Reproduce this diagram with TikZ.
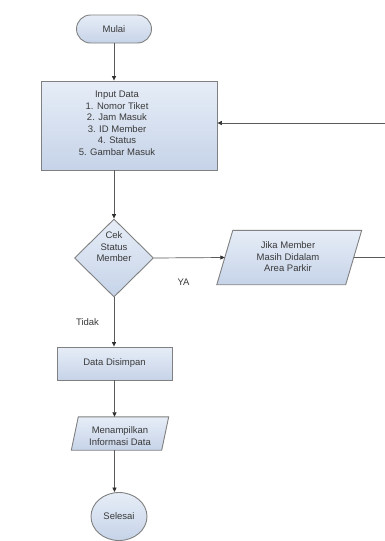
\documentclass[tikz,border=0pt]{standalone}
\usepackage{fontspec}
\setmainfont{Liberation Sans}
\usetikzlibrary{arrows.meta,shapes.geometric,shapes.misc}
\definecolor{edge}{HTML}{808080}
\definecolor{linec}{HTML}{5A5A5A}
\definecolor{tipc}{HTML}{2E2E2E}
\definecolor{txt}{HTML}{3A3A3A}
\definecolor{ftop}{HTML}{E6EDF7}
\definecolor{fbot}{HTML}{C6D3E8}
\begin{document}
\begin{tikzpicture}[x=1pt,y=-1pt,
  shp/.style={draw=edge, line width=0.9pt, top color=ftop, bottom color=fbot},
  lbl/.style={font=\fontsize{9.5}{11.5}\selectfont, text=txt, align=center, inner sep=0pt},
  flow/.style={draw=linec, line width=0.7pt},
  arr/.style={flow, -{Triangle[length=4.5pt,width=4pt,color=tipc]}}]
\useasboundingbox (0,0) rectangle (385,541);
\fill[white] (0,0) rectangle (385,541);

% start
\node[shp, rounded rectangle, minimum width=75pt, minimum height=28pt, lbl] (mulai) at (114,29) {Mulai};

% input box
\node[shp, rectangle, minimum width=176pt, minimum height=89pt] (input) at (129,125.5) {};
\node[lbl] (inputtxt) at (117,123.5) {Input Data\\1. Nomor Tiket\\2. Jam Masuk\\3. ID Member\\4. Status\\5. Gambar Masuk};

% decision
\node[shp, diamond, minimum width=79pt, minimum height=78pt, inner sep=0pt] (cek) at (114,258) {};
\node[lbl] (cektxt) at (114,247) {Cek\\Status\\Member};

% parallelogram: Jika Member ...
\node[minimum width=128.5pt, minimum height=54pt, inner sep=0pt] (jika) at (289.25,257.5) {};
\path[shp] ([xshift=8pt]jika.north west) -- ([xshift=8pt]jika.north east)
  -- ([xshift=-8pt]jika.south east) -- ([xshift=-8pt]jika.south west) -- cycle;
\node[lbl] (jikatxt) at (288,257) {Jika Member\\Masih Didalam\\Area Parkir};

% data disimpan
\node[shp, rectangle, minimum width=115pt, minimum height=33pt, lbl] (dd) at (114.5,363.5) {Data Disimpan};

% parallelogram: Menampilkan
\node[minimum width=90pt, minimum height=33pt, inner sep=0pt] (menam) at (120,433.5) {};
\path[shp] ([xshift=3.5pt]menam.north west) -- ([xshift=3.5pt]menam.north east)
  -- ([xshift=-3.5pt]menam.south east) -- ([xshift=-3.5pt]menam.south west) -- cycle;
\node[lbl] (menamtxt) at (120,436) {Menampilkan\\Informasi Data};

% end
\node[shp, ellipse, minimum width=56pt, minimum height=48pt, lbl] (selesai) at (119,516.5) {Selesai};

% labels
\node[lbl] (tidak) at (87.5,322) {Tidak};
\node[lbl] (ya) at (183.5,282) {YA};

% connectors
\draw[arr] (mulai.south) -- (mulai.south |- input.north);
\draw[arr] (cek.north |- input.south) -- (cek.north);
\draw[arr] (cek.east) -- (jika.west);
\draw[arr] (cek.south) -- (cek.south |- dd.north);
\draw[arr] (dd.south) -- (dd.south |- menam.north);
\draw[arr] (dd.south |- menam.south) -- (dd.south |- selesai.north);

\coordinate (r1) at (385,257.5);
\coordinate (r2) at (385,123);
\draw[flow] (jika.east) -- (r1);
\draw[arr] (r2) -- (r2 -| input.east);
\end{tikzpicture}
\end{document}
